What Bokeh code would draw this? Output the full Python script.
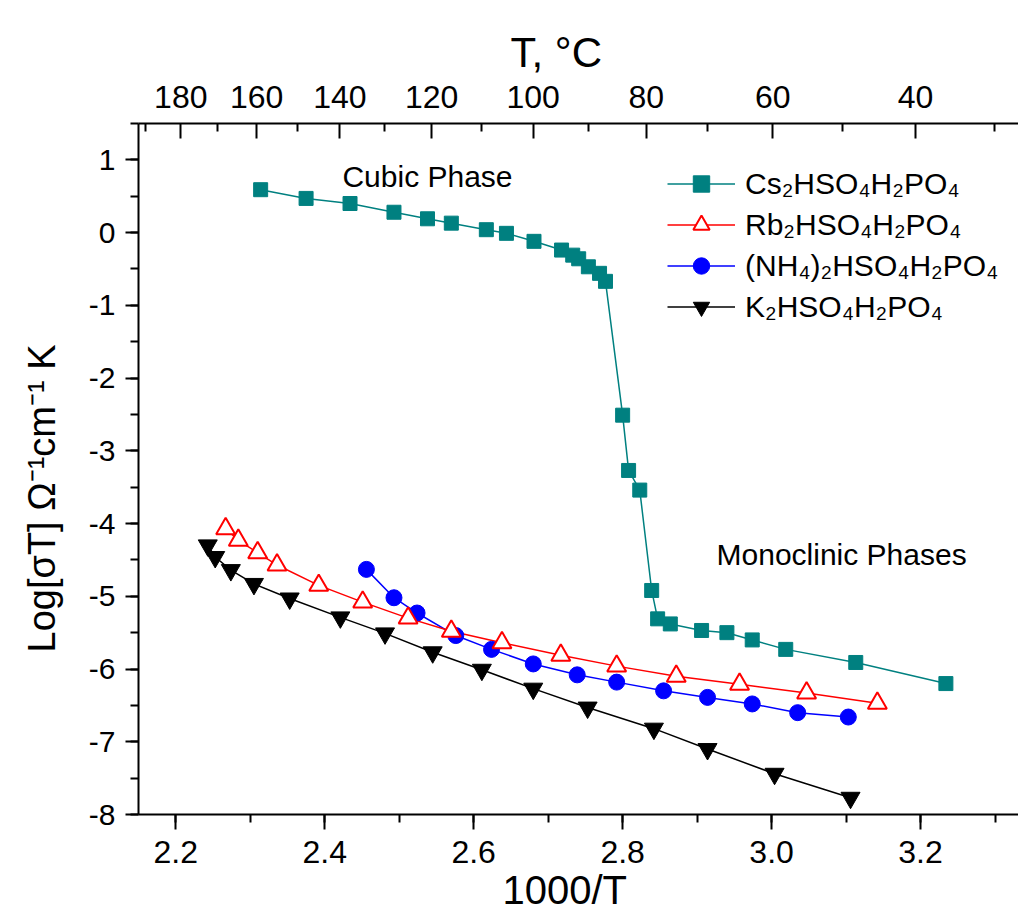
import math
from bokeh.plotting import figure
from bokeh.models import (Range1d, LinearAxis, SingleIntervalTicker, FixedTicker,
                          Legend, LegendItem, Label, Title, CustomJSTickFormatter)
from bokeh.embed import file_html
from bokeh.resources import INLINE

# ---------------- data ----------------
cs_x = [2.314, 2.375, 2.434, 2.493, 2.538, 2.570, 2.617, 2.644, 2.681, 2.718, 2.733, 2.741,
        2.754, 2.769, 2.777, 2.800, 2.808, 2.823, 2.839, 2.847, 2.864, 2.906, 2.940, 2.974,
        3.019, 3.113, 3.234]
cs_y = [0.59, 0.47, 0.40, 0.28, 0.19, 0.13, 0.04, -0.01, -0.12, -0.24, -0.31, -0.36,
        -0.47, -0.56, -0.67, -2.51, -3.27, -3.54, -4.92, -5.31, -5.38, -5.47, -5.50, -5.60,
        -5.73, -5.91, -6.20]

rb_x = [2.267, 2.284, 2.310, 2.336, 2.392, 2.451, 2.512, 2.570, 2.638, 2.717, 2.792, 2.872,
        2.957, 3.047, 3.142]
rb_y = [-4.07, -4.23, -4.40, -4.57, -4.85, -5.08, -5.30, -5.48, -5.64, -5.81, -5.96, -6.10,
        -6.21, -6.33, -6.47]

nh4_x = [2.456, 2.493, 2.524, 2.576, 2.624, 2.680, 2.739, 2.792, 2.855, 2.914, 2.974, 3.035, 3.103]
nh4_y = [-4.63, -5.02, -5.23, -5.54, -5.73, -5.93, -6.08, -6.18, -6.30, -6.39, -6.48, -6.60, -6.66]

k_x = [2.243, 2.253, 2.274, 2.305, 2.353, 2.421, 2.481, 2.545, 2.611, 2.680, 2.753, 2.842,
       2.914, 3.004, 3.106]
k_y = [-4.30, -4.46, -4.64, -4.83, -5.03, -5.29, -5.51, -5.77, -6.01, -6.27, -6.53, -6.82,
       -7.10, -7.44, -7.77]

series_labels = ["Cs₂HSO₄H₂PO₄", "Rb₂HSO₄H₂PO₄", "(NH₄)₂HSO₄H₂PO₄", "K₂HSO₄H₂PO₄"]
top_major_celsius = [180, 160, 140, 120, 100, 80, 60, 40]
top_minor_celsius = [190, 170, 150, 130, 110, 90, 70, 50, 30]
annotations = [("Cubic Phase", 2.538, 0.766), ("Monoclinic Phases", 3.094, -4.42)]
x_title = "1000/T"
y_title = "Log[σT] Ω⁻¹cm⁻¹ K"
top_title = "T, °C"

FONT = "Liberation Sans"

p = figure(width=1018, height=924, x_range=Range1d(2.15, 3.3315), y_range=Range1d(-8, 1.5),
           output_backend="svg", toolbar_location=None,
           x_axis_location=None, y_axis_location=None,
           min_border_left=138, min_border_right=0, min_border_top=123, min_border_bottom=110)
p.grid.visible = False
p.outline_line_color = None
p.background_fill_color = "white"
p.border_fill_color = "white"


def style_axis(ax):
    ax.axis_line_width = 2
    ax.major_tick_line_width = 2
    ax.minor_tick_line_width = 2
    ax.axis_line_color = "black"
    ax.major_tick_line_color = "black"
    ax.minor_tick_line_color = "black"
    ax.major_label_text_color = "black"
    ax.major_label_text_font = FONT


def make_title(text, size, offset, standoff, valign):
    return Title(text=text, align="left", offset=offset, standoff=standoff,
                 vertical_align=valign, text_font=FONT, text_font_size=size,
                 text_font_style="normal", text_color="black")


# bottom axis
xb = LinearAxis(ticker=SingleIntervalTicker(interval=0.2, num_minor_ticks=2),
                formatter=CustomJSTickFormatter(code="return tick.toFixed(1);"))
style_axis(xb)
xb.major_tick_out = 15
xb.major_tick_in = 0
xb.minor_tick_out = 8
xb.minor_tick_in = 0
xb.major_label_text_font_size = "32px"
xb.major_label_standoff = 11
p.add_layout(xb, "below")
p.add_layout(make_title(x_title, "40px", 364, 0, "bottom"), "below")

# top axis in Celsius
major_pos = [1000.0 / (t + 273.15) for t in top_major_celsius]
minor_pos = [1000.0 / (t + 273.15) for t in top_minor_celsius]
xt = LinearAxis(ticker=FixedTicker(ticks=major_pos, minor_ticks=minor_pos),
                formatter=CustomJSTickFormatter(code="return String(Math.round(1000/tick - 273.15));"))
style_axis(xt)
xt.major_tick_in = 15
xt.major_tick_out = 0
xt.minor_tick_in = 8
xt.minor_tick_out = 0
xt.major_label_text_font_size = "32px"
xt.major_label_standoff = 16
p.add_layout(xt, "above")
p.add_layout(make_title(top_title, "42px", 372, 14, "bottom"), "above")

# left axis
yl = LinearAxis(ticker=SingleIntervalTicker(interval=1, num_minor_ticks=2),
                formatter=CustomJSTickFormatter(code="return tick.toFixed(0);"))
style_axis(yl)
yl.major_tick_out = 13
yl.major_tick_in = 0
yl.minor_tick_out = 8
yl.minor_tick_in = 0
yl.major_label_text_font_size = "30px"
yl.major_label_standoff = 10
p.add_layout(yl, "left")
p.add_layout(make_title(y_title, "38px", 162, 41, "top"), "left")

TEAL = "#008080"
RED = "#FF0000"
BLUE = "#0000FF"
BLACK = "#000000"

l_cs = p.line(cs_x, cs_y, line_color=TEAL, line_width=1.5)
l_k = p.line(k_x, k_y, line_color=BLACK, line_width=1.5)
l_nh = p.line(nh4_x, nh4_y, line_color=BLUE, line_width=1.5)
l_rb = p.line(rb_x, rb_y, line_color=RED, line_width=1.5)

s_cs = p.scatter(cs_x, cs_y, marker="square", size=14, fill_color=TEAL, line_color=TEAL)
s_k = p.scatter(k_x, k_y, marker="inverted_triangle", size=19, fill_color=BLACK, line_color=BLACK)
s_nh = p.scatter(nh4_x, nh4_y, marker="circle", size=16, fill_color=BLUE, line_color=BLUE)
s_rb = p.scatter(rb_x, rb_y, marker="triangle", size=19, fill_color="white", line_color=RED,
                 line_width=2)

legend = Legend(items=[
    LegendItem(label=series_labels[0], renderers=[l_cs, s_cs]),
    LegendItem(label=series_labels[1], renderers=[l_rb, s_rb]),
    LegendItem(label=series_labels[2], renderers=[l_nh, s_nh]),
    LegendItem(label=series_labels[3], renderers=[l_k, s_k]),
])
legend.location = (529, 487)
legend.margin = 0
legend.padding = 0
legend.spacing = 0
legend.glyph_width = 68
legend.glyph_height = 41
legend.label_height = 41
legend.label_standoff = 10
legend.label_text_font = FONT
legend.label_text_font_size = "30px"
legend.label_text_color = "black"
legend.border_line_color = None
legend.background_fill_alpha = 0
p.add_layout(legend, "center")

for txt, ax, ay in annotations:
    p.add_layout(Label(x=ax, y=ay, text=txt, text_align="center", text_baseline="middle",
                       text_font=FONT, text_font_size="30px", text_color="black"))

open("out.html", "w").write(file_html(p, INLINE))
